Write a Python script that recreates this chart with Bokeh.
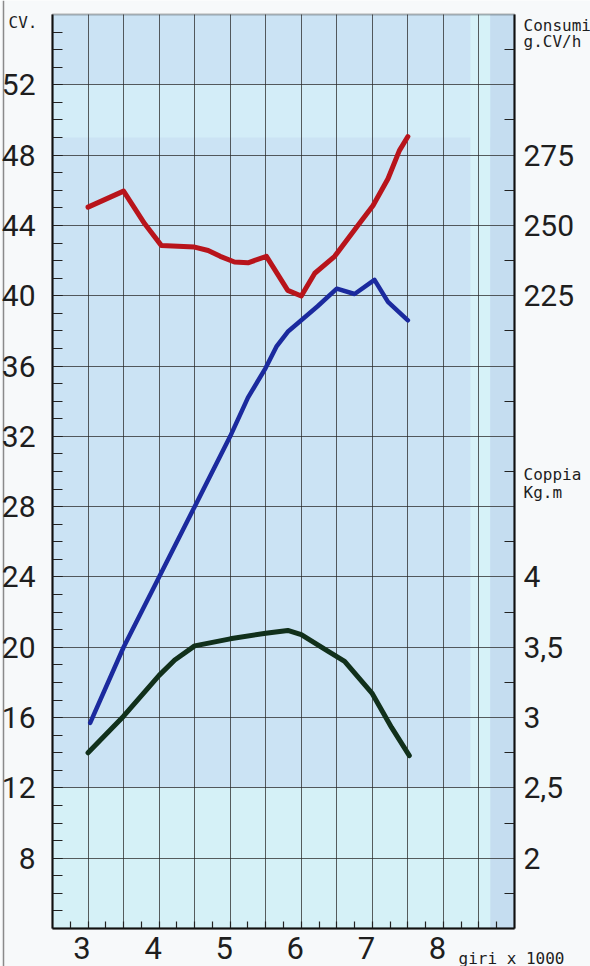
from bokeh.plotting import figure
from bokeh.models import Range1d, LinearAxis, FixedTicker, BoxAnnotation, Grid, Span
from bokeh.embed import file_html
from bokeh.resources import INLINE

# ---------------- data ----------------
# Potenza (CV) vs giri x 1000
rpm_power = [3.03, 3.5, 4.0, 4.5, 5.0, 5.25, 5.5, 5.65, 5.81, 6.0, 6.23, 6.5, 6.75, 7.03, 7.22, 7.5]
power_cv = [15.7, 20.0, 24.0, 28.0, 32.0, 34.2, 35.9, 37.1, 37.95, 38.6, 39.4, 40.4, 40.1, 40.9, 39.65, 38.6]

# Consumo specifico (g/CV h)
rpm_cons = [3.0, 3.5, 3.8, 4.03, 4.5, 4.69, 4.86, 5.06, 5.25, 5.51, 5.81, 6.0, 6.19, 6.47, 6.78, 7.01, 7.22, 7.38, 7.5]
cons = [256.5, 262.2, 250.5, 242.9, 242.3, 241.1, 239.0, 237.0, 236.7, 239.0, 226.9, 224.9, 233.0, 239.0, 249.4, 257.1, 266.6, 276.6, 281.6]

# Coppia (kg.m)
rpm_torque = [3.0, 3.5, 4.0, 4.22, 4.5, 5.0, 5.5, 5.81, 6.0, 6.38, 6.61, 7.0, 7.27, 7.52]
torque = [2.75, 3.01, 3.30, 3.41, 3.51, 3.56, 3.60, 3.62, 3.59, 3.47, 3.40, 3.17, 2.93, 2.73]

# axes / ticks
x_ticks = [3, 4, 5, 6, 7, 8]
x_tick_labels = ["3", "4", "5", "6", "7", "8"]
cv_ticks = [8, 12, 16, 20, 24, 28, 32, 36, 40, 44, 48, 52]
cons_ticks = [225, 250, 275]
torque_ticks = [2, 2.5, 3, 3.5, 4]
torque_tick_labels = ["2", "2,5", "3", "3,5", "4"]
x_unit = "giri x 1000"
y_unit = "CV."
cons_unit = ["Consumi", "g.CV/h"]
torque_unit = ["Coppia", "Kg.m"]

# chart area ranges
CV_START, CV_END = 4, 56
CONS_START, CONS_END = 0, 325
TQ_START, TQ_END = 1.5, 8.0
X_START, X_END = 2.5, 9.0

# layout (pixels): the chart area sits inside a full-canvas frame
W, H = 590, 966
M_LEFT, M_TOP, M_RIGHT, M_BOTTOM = 52, 14, 76, 38
AREA_W = W - M_LEFT - M_RIGHT
AREA_H = H - M_TOP - M_BOTTOM
PX_X = (X_END - X_START) / AREA_W      # data units per pixel
PX_Y = (CV_END - CV_START) / AREA_H
VX0, VX1 = X_START - M_LEFT * PX_X, X_END + M_RIGHT * PX_X
VY0, VY1 = CV_START - M_BOTTOM * PX_Y, CV_END + M_TOP * PX_Y


def cons_to_cv(c):
    return CV_START + (c - CONS_START) * (CV_END - CV_START) / (CONS_END - CONS_START)


def cv_to_cons(v):
    return CONS_START + (v - CV_START) * (CONS_END - CONS_START) / (CV_END - CV_START)


def tq_to_cv(t):
    return CV_START + (t - TQ_START) * (CV_END - CV_START) / (TQ_END - TQ_START)


def cv_to_tq(v):
    return TQ_START + (v - CV_START) * (TQ_END - TQ_START) / (CV_END - CV_START)


NUM_FONT = "Roboto"
SMALL_FONT = "DejaVu Sans Mono"
TXT = "#1e1e1e"
LINE = "#111111"
TICK = "#222222"
GRID = "#2a2a2a"

p = figure(width=W, height=H, title=None,
           x_range=Range1d(VX0, VX1), y_range=Range1d(VY0, VY1),
           x_axis_location=None, y_axis_location=None,
           output_backend="svg", toolbar_location=None,
           min_border=0, min_border_left=0, min_border_right=0,
           min_border_top=0, min_border_bottom=0)
p.extra_y_ranges = {"cons": Range1d(cv_to_cons(VY0), cv_to_cons(VY1)),
                    "tq": Range1d(cv_to_tq(VY0), cv_to_tq(VY1))}
p.background_fill_color = "#f7f9fa"
p.border_fill_color = "#f7f9fa"
p.outline_line_color = None

# page edge line of the scan
p.add_layout(Span(location=VX0 + 3 * PX_X, dimension="height", line_color="#8a8a8a",
                  line_width=1.5, level="image"))

# chart area background and scan-like bands
p.add_layout(BoxAnnotation(left=X_START, right=X_END, bottom=CV_START, top=CV_END,
                           fill_color="#cbe3f4", fill_alpha=1, line_alpha=0, level="image"))
for kw in [dict(bottom=CV_START, top=12, fill_color="#d5f1f7"),
           dict(bottom=49, top=52, fill_color="#d3edf8"),
           dict(bottom=CV_START, top=CV_END, left=8.38, right=8.66, fill_color="#d6f2f8"),
           dict(bottom=CV_START, top=CV_END, left=8.66, right=X_END, fill_color="#c5ddf0")]:
    kw.setdefault("left", X_START)
    kw.setdefault("right", X_END)
    p.add_layout(BoxAnnotation(fill_alpha=1, line_alpha=0, level="image", **kw))

# grid lines, limited to the chart area
x_grid_ticks = [3 + 0.5 * i for i in range(0, 12)]
HAS_CB = "cross_bounds" in Grid.properties()
if HAS_CB:
    p.xgrid.ticker = FixedTicker(ticks=x_grid_ticks)
    p.xgrid.bounds = (X_START, X_END)
    p.xgrid.cross_bounds = (CV_START, CV_END)
    p.ygrid.ticker = FixedTicker(ticks=cv_ticks)
    p.ygrid.bounds = (CV_START, CV_END)
    p.ygrid.cross_bounds = (X_START, X_END)
    for g in (p.xgrid, p.ygrid):
        g.grid_line_color = GRID
        g.grid_line_alpha = 0.75
        g.grid_line_width = 1
else:
    p.grid.visible = False
    p.segment(x0=x_grid_ticks, x1=x_grid_ticks, y0=CV_START, y1=CV_END,
              line_color=GRID, line_alpha=0.75, line_width=1, level="underlay")
    p.segment(x0=X_START, x1=X_END, y0=cv_ticks, y1=cv_ticks,
              line_color=GRID, line_alpha=0.75, line_width=1, level="underlay")

# chart area outline
p.add_layout(BoxAnnotation(left=X_START, right=X_END, bottom=CV_START, top=CV_END,
                           fill_alpha=0, line_color=LINE, line_width=2, level="overlay"))


def label_axis(ax, font, size, standoff):
    ax.axis_line_color = None
    ax.major_tick_in = 0
    ax.major_tick_out = 0
    ax.minor_tick_in = 0
    ax.minor_tick_out = 0
    ax.major_label_text_font = font
    ax.major_label_text_font_size = size
    ax.major_label_text_color = TXT
    ax.major_label_standoff = standoff


def rule_axis(ax):
    ax.axis_line_color = LINE
    ax.axis_line_width = 2
    ax.major_tick_out = 0
    ax.minor_tick_out = 0
    ax.major_tick_line_color = TICK
    ax.minor_tick_line_color = TICK
    ax.minor_tick_line_width = 1.2


# bottom rule with quarter ticks
xa = LinearAxis(fixed_location=CV_START, bounds=(X_START, X_END),
                ticker=FixedTicker(ticks=[], minor_ticks=[X_START + 0.25 * i for i in range(1, 26)]))
rule_axis(xa)
xa.major_tick_in = 0
xa.minor_tick_in = 7
p.add_layout(xa, "below")

# bottom tick labels (drawn slightly left of their grid line, as in the print)
shift = 6 * PX_X
xl_pos = [t - shift for t in x_ticks]
xl = LinearAxis(fixed_location=CV_START,
                ticker=FixedTicker(ticks=xl_pos, minor_ticks=[]),
                major_label_overrides={pos: lab for pos, lab in zip(xl_pos, x_tick_labels)})
label_axis(xl, NUM_FONT, "31px", 8)
p.add_layout(xl, "below")

# x unit label
xu_pos = [8.958]
xu = LinearAxis(fixed_location=CV_START, ticker=FixedTicker(ticks=xu_pos, minor_ticks=[]),
                major_label_overrides={xu_pos[0]: x_unit})
label_axis(xu, SMALL_FONT, "16px", 20)
p.add_layout(xu, "below")

# left axis (CV)
ya = LinearAxis(fixed_location=X_START, bounds=(CV_START, CV_END),
                ticker=FixedTicker(ticks=cv_ticks, minor_ticks=list(range(5, 56))))
rule_axis(ya)
ya.major_tick_in = 10
ya.minor_tick_in = 10
ya.major_label_text_font = NUM_FONT
ya.major_label_text_font_size = "30px"
ya.major_label_text_color = TXT
ya.major_label_standoff = 17
p.add_layout(ya, "left")

# y unit label (top left)
yu_pos = [55.57]
yu = LinearAxis(fixed_location=X_START, ticker=FixedTicker(ticks=yu_pos, minor_ticks=[]),
                major_label_overrides={yu_pos[0]: y_unit})
label_axis(yu, SMALL_FONT, "16px", 15)
p.add_layout(yu, "left")

# right axis: consumption and torque scales
right_pos = [cons_to_cv(c) for c in cons_ticks] + [tq_to_cv(t) for t in torque_ticks]
right_lab = [str(c) for c in cons_ticks] + torque_tick_labels
ra = LinearAxis(fixed_location=X_END, bounds=(CV_START, CV_END),
                ticker=FixedTicker(ticks=right_pos, minor_ticks=list(range(6, 56, 4))),
                major_label_overrides={pos: lab for pos, lab in zip(right_pos, right_lab)})
rule_axis(ra)
ra.major_tick_in = 0
ra.minor_tick_in = 10
ra.major_label_text_font = NUM_FONT
ra.major_label_text_font_size = "30px"
ra.major_label_text_color = TXT
ra.major_label_standoff = 9
p.add_layout(ra, "right")

# right unit labels
ru_pos = [55.37, 54.46, 29.83, 28.81]
ru_lab = cons_unit + torque_unit
ru = LinearAxis(fixed_location=X_END, ticker=FixedTicker(ticks=ru_pos, minor_ticks=[]),
                major_label_overrides={pos: lab for pos, lab in zip(ru_pos, ru_lab)})
label_axis(ru, SMALL_FONT, "16px", 9)
p.add_layout(ru, "right")

# curves
p.line(rpm_cons, cons, y_range_name="cons", line_color="#b8141b", line_width=5,
       line_join="round", line_cap="round")
p.line(rpm_power, power_cv, line_color="#1b2a9e", line_width=4.5,
       line_join="round", line_cap="round")
p.line(rpm_torque, torque, y_range_name="tq", line_color="#11301b", line_width=5,
       line_join="round", line_cap="round")

open("out.html", "w").write(file_html(p, INLINE))
